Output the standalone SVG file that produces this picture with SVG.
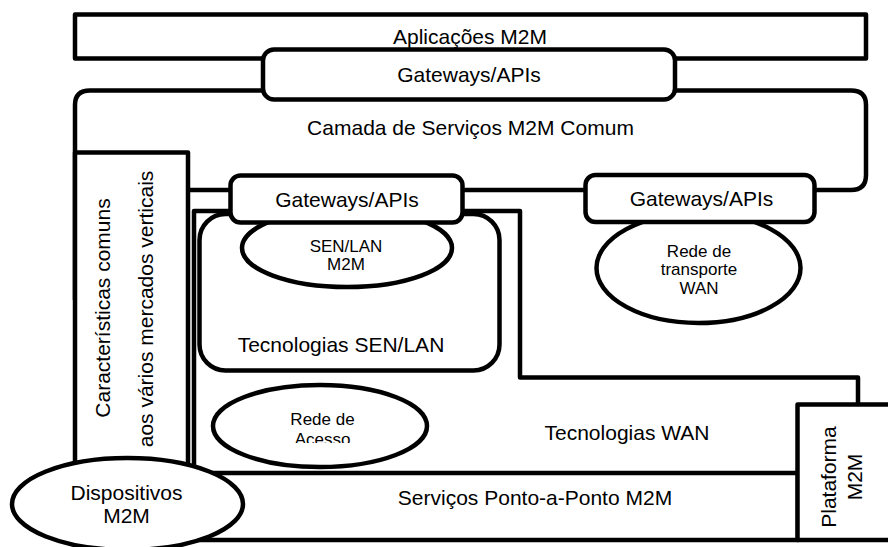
<svg xmlns="http://www.w3.org/2000/svg" width="888" height="547" viewBox="0 0 888 547">
  <style>
    .ln { fill: none; stroke: #000; stroke-width: 4.5; stroke-linejoin: round; }
    .box { fill: #fff; stroke: #000; stroke-width: 4.5; stroke-linejoin: round; }
    .lbl { font-family: "Liberation Sans", Arial, sans-serif; font-size: 21px; fill: #000; text-anchor: middle; }
    .sm { font-size: 17px; }
  </style>
  <defs>
    <clipPath id="acessoClip">
      <rect x="200" y="380" width="240" height="63"/>
    </clipPath>
  </defs>
  <rect width="888" height="547" fill="#fff"/>

  <!-- Top application layer -->
  <g id="aplicacoes">
    <rect class="box" x="75" y="14.5" width="791" height="44"/>
    <text class="lbl" x="470" y="44">Aplicações M2M</text>
  </g>

  <!-- Common service layer outline -->
  <g id="camada">
    <path class="ln" d="M75,300 V105 Q75,90.5 90,90.5 H851 Q866,90.5 866,105 V175 Q866,190 851,190 H188"/>
    <text class="lbl" x="470.5" y="135">Camada de Serviços M2M Comum</text>
  </g>

  <g id="gateway-top">
    <rect class="box" x="263" y="49.5" width="412" height="50" rx="11"/>
    <text class="lbl" x="469" y="82">Gateways/APIs</text>
  </g>

  <!-- Vertical common features column -->
  <g id="caracteristicas">
    <rect class="box" x="75" y="152.5" width="113" height="330"/>
    <text class="lbl" transform="translate(110,308) rotate(-90)">Características comuns</text>
    <text class="lbl" transform="translate(153,309) rotate(-90)">aos vários mercados verticais</text>
  </g>

  <!-- WAN technologies region -->
  <g id="tecnologias-wan">
    <path class="ln" d="M194,480 V211 H520 V377.5 H858 V404"/>
    <text class="lbl" x="627" y="440">Tecnologias WAN</text>
  </g>

  <g id="tecnologias-sen-lan">
    <rect class="box" x="199.5" y="214" width="300" height="156.5" rx="26"/>
    <text class="lbl" x="341" y="352">Tecnologias SEN/LAN</text>
  </g>

  <g id="sen-lan-m2m">
    <ellipse class="box" cx="347" cy="248" rx="105" ry="39"/>
    <text class="lbl sm" x="346" y="252">SEN/LAN</text>
    <text class="lbl sm" x="346" y="270">M2M</text>
  </g>

  <g id="rede-transporte">
    <ellipse class="box" cx="698.5" cy="268" rx="102" ry="55"/>
    <text class="lbl sm" x="699" y="257">Rede de</text>
    <text class="lbl sm" x="699" y="275">transporte</text>
    <text class="lbl sm" x="699" y="294">WAN</text>
  </g>

  <g id="gateway-sen-lan">
    <rect class="box" x="230.5" y="175.5" width="232" height="47" rx="10"/>
    <text class="lbl" x="347" y="207">Gateways/APIs</text>
  </g>

  <g id="gateway-wan">
    <rect class="box" x="585.5" y="175" width="229" height="47" rx="10"/>
    <text class="lbl" x="701.5" y="206">Gateways/APIs</text>
  </g>

  <g id="rede-acesso">
    <ellipse class="box" cx="320" cy="426" rx="107" ry="41"/>
    <text class="lbl sm" x="322.5" y="425">Rede de</text>
    <text class="lbl sm" x="322.5" y="445" clip-path="url(#acessoClip)">Acesso</text>
  </g>

  <!-- Point-to-point services band -->
  <g id="servicos">
    <rect class="box" x="194" y="473" width="604" height="67"/>
    <text class="lbl" x="535" y="505">Serviços Ponto-a-Ponto M2M</text>
  </g>

  <g id="plataforma">
    <rect class="box" x="797.5" y="404.5" width="100" height="135.5"/>
    <text class="lbl" transform="translate(836,477) rotate(-90)">Plataforma</text>
    <text class="lbl" transform="translate(862,477) rotate(-90)">M2M</text>
  </g>

  <g id="dispositivos">
    <ellipse class="box" cx="127.5" cy="504" rx="115.5" ry="46"/>
    <text class="lbl" x="126.5" y="500">Dispositivos</text>
    <text class="lbl" x="126.5" y="523">M2M</text>
  </g>

  <!-- connectors: none beyond the shared borders above -->
  <g id="connectors"/>
</svg>
